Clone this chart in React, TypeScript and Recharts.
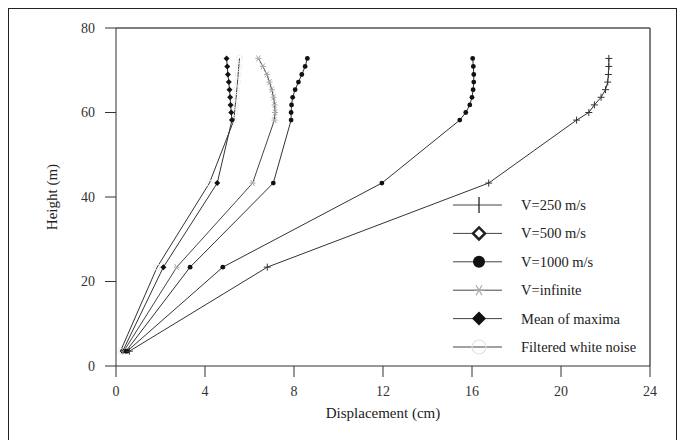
import React from 'react';
import { ScatterChart, Scatter, XAxis, YAxis, ReferenceLine, Legend } from 'recharts';

const FONT = '"Liberation Serif", "DejaVu Serif", serif';

const heights = [3.5, 23.4, 43.3, 58.2, 60.0, 61.8, 63.6, 65.4, 67.2, 69.0, 70.9, 72.8];

const v250 = [0.6, 6.8, 16.75, 20.7, 21.25, 21.5, 21.8, 22.0, 22.1, 22.13, 22.15, 22.15];
const v500 = [0.5, 4.8, 11.95, 15.45, 15.72, 15.9, 16.0, 16.05, 16.08, 16.08, 16.06, 16.03];
const v1000 = [0.45, 3.33, 7.07, 7.87, 7.87, 7.89, 7.94, 8.05, 8.2, 8.35, 8.5, 8.6];
const vInf = [0.35, 2.73, 6.14, 7.12, 7.15, 7.13, 7.08, 7.0, 6.9, 6.78, 6.6, 6.4];
const meanMax = [0.3, 2.13, 4.55, 5.21, 5.18, 5.15, 5.13, 5.1, 5.07, 5.03, 5.0, 4.97];
const whiteNoise = [0.2, 1.85, 4.2, 5.3, 5.33, 5.36, 5.4, 5.43, 5.46, 5.49, 5.52, 5.55];

const xTicks = [0, 4, 8, 12, 16, 20, 24];
const yTicks = [0, 20, 40, 60, 80];

const seriesNames = ['V=250 m/s', 'V=500 m/s', 'V=1000 m/s', 'V=infinite', 'Mean of maxima', 'Filtered white noise'];

const toPts = (xs: number[]) => xs.map((x, i) => ({ x, y: heights[i] }));

const PlusMark = (p: any) => (
  <g stroke="#333" strokeWidth={1}>
    <line x1={p.cx - 3.5} x2={p.cx + 3.5} y1={p.cy} y2={p.cy} />
    <line x1={p.cx} x2={p.cx} y1={p.cy - 3.5} y2={p.cy + 3.5} />
  </g>
);
const DotMark = (p: any) => <circle cx={p.cx} cy={p.cy} r={2.4} fill="#111" />;
const DiamondMark = (p: any) => (
  <path d={`M${p.cx},${p.cy - 3}L${p.cx + 3},${p.cy}L${p.cx},${p.cy + 3}L${p.cx - 3},${p.cy}Z`} fill="#111" />
);
const AsteriskMark = (p: any) => (
  <g stroke="#aaa" strokeWidth={1}>
    <line x1={p.cx - 3} x2={p.cx + 3} y1={p.cy} y2={p.cy} />
    <line x1={p.cx - 2} x2={p.cx + 2} y1={p.cy - 3} y2={p.cy + 3} />
    <line x1={p.cx - 2} x2={p.cx + 2} y1={p.cy + 3} y2={p.cy - 3} />
  </g>
);
const OpenCircleMark = (p: any) => <circle cx={p.cx} cy={p.cy} r={3} fill="none" stroke="#eee" />;

const legendMarks = [
  (x: number, y: number) => <line x1={x} x2={x} y1={y - 8} y2={y + 8} stroke="#222" strokeWidth={1.3} />,
  (x: number, y: number) => (
    <path d={`M${x},${y - 6}L${x + 6},${y}L${x},${y + 6}L${x - 6},${y}Z`} fill="#fff" stroke="#222" strokeWidth={2.5} />
  ),
  (x: number, y: number) => <circle cx={x} cy={y} r={6} fill="#111" />,
  (x: number, y: number) => (
    <g stroke="#aaa" strokeWidth={1.2}>
      <line x1={x - 5} x2={x + 5} y1={y} y2={y} />
      <line x1={x - 3} x2={x + 3} y1={y - 5} y2={y + 5} />
      <line x1={x - 3} x2={x + 3} y1={y + 5} y2={y - 5} />
    </g>
  ),
  (x: number, y: number) => <path d={`M${x},${y - 7}L${x + 7},${y}L${x},${y + 7}L${x - 7},${y}Z`} fill="#111" />,
  (x: number, y: number) => <circle cx={x} cy={y} r={7} fill="none" stroke="#e2e2e2" strokeWidth={1.2} />,
];

const renderLegend = () => (
  <svg width={232} height={175} style={{ display: 'block' }}>
    {seriesNames.map((name, i) => {
      const y = 14 + i * 28.4;
      return (
        <g key={name}>
          <line x1={0} x2={49} y1={y} y2={y} stroke="#444" strokeWidth={1} />
          {legendMarks[i](26, y)}
          <text x={68} y={y} dominantBaseline="central" fontFamily={FONT} fontSize={14.5} fill="#222">
            {name}
          </text>
        </g>
      );
    })}
  </svg>
);

export default function App() {
  const tickStyle = { fill: '#333', fontSize: 14, fontFamily: FONT };
  return (
    <div
      style={{
        width: 667,
        height: 432,
        borderTop: '1px solid #222',
        borderLeft: '1px solid #222',
        borderRight: '1px solid #222',
        background: '#fff',
      }}
    >
      <ScatterChart width={667} height={431} margin={{ top: 19, right: 26, left: 47, bottom: 20 }}>
        <XAxis
          type="number"
          dataKey="x"
          domain={[0, 24]}
          ticks={xTicks}
          allowDataOverflow
          height={54}
          tickSize={11}
          tickMargin={9}
          stroke="#333"
          tick={tickStyle}
          label={{ value: 'Displacement (cm)', position: 'insideBottom', offset: 2, fill: '#222', fontSize: 15, fontFamily: FONT }}
        />
        <YAxis
          type="number"
          dataKey="y"
          domain={[0, 80]}
          ticks={yTicks}
          allowDataOverflow
          width={60}
          tickSize={11}
          tickMargin={10}
          stroke="#333"
          tick={tickStyle}
          label={{
            value: 'Height (m)',
            angle: -90,
            position: 'insideLeft',
            offset: -4,
            fill: '#222',
            fontSize: 15,
            fontFamily: FONT,
            style: { textAnchor: 'middle' },
          }}
        />
        <ReferenceLine y={80} stroke="#555" strokeWidth={1.5} />
        <ReferenceLine x={24} stroke="#555" strokeWidth={1.5} />
        <Scatter name={seriesNames[5]} data={toPts(whiteNoise)} line={{ stroke: '#333', strokeWidth: 1 }} shape={OpenCircleMark} isAnimationActive={false} />
        <Scatter name={seriesNames[4]} data={toPts(meanMax)} line={{ stroke: '#333', strokeWidth: 1 }} shape={DiamondMark} isAnimationActive={false} />
        <Scatter name={seriesNames[3]} data={toPts(vInf)} line={{ stroke: '#444', strokeWidth: 1 }} shape={AsteriskMark} isAnimationActive={false} />
        <Scatter name={seriesNames[2]} data={toPts(v1000)} line={{ stroke: '#333', strokeWidth: 1 }} shape={DotMark} isAnimationActive={false} />
        <Scatter name={seriesNames[1]} data={toPts(v500)} line={{ stroke: '#333', strokeWidth: 1 }} shape={DotMark} isAnimationActive={false} />
        <Scatter name={seriesNames[0]} data={toPts(v250)} line={{ stroke: '#333', strokeWidth: 1 }} shape={PlusMark} isAnimationActive={false} />
        <Legend
          layout="vertical"
          align="center"
          verticalAlign="middle"
          content={renderLegend}
          wrapperStyle={{ position: 'absolute', left: 444, top: 182, width: 232, height: 175 }}
        />
      </ScatterChart>
    </div>
  );
}
